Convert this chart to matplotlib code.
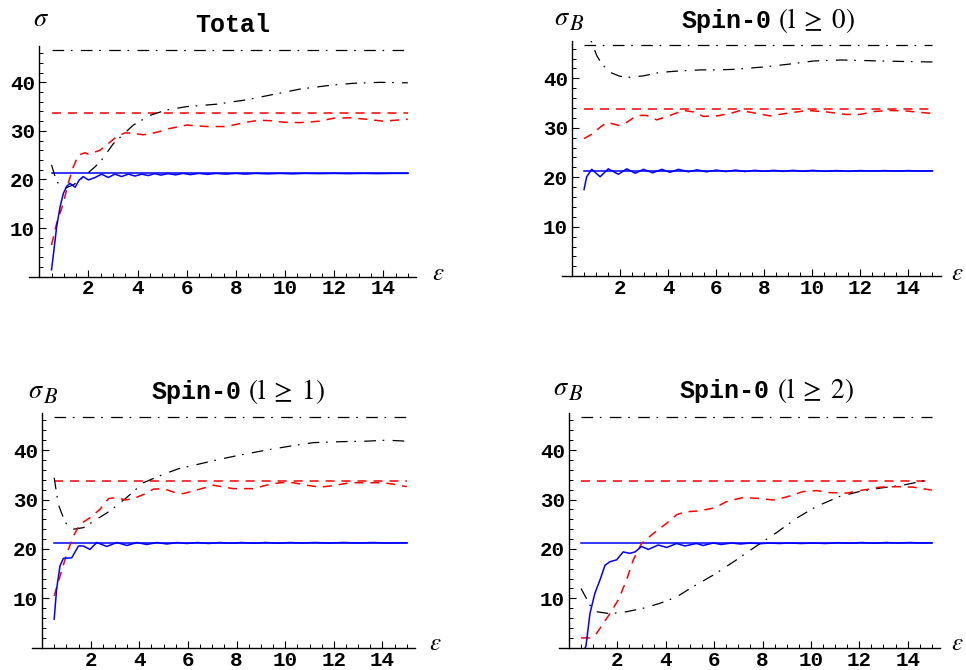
import matplotlib
matplotlib.use('Agg')
import matplotlib.pyplot as plt
from matplotlib.ticker import FixedLocator

plt.rcParams['lines.scale_dashes'] = False
plt.rcParams['mathtext.fontset'] = 'stix'

W, H = 966, 670

# ---------------- data ----------------
asym_x = [0.5, 15.0]
asym_black = 46.7
asym_red = 33.7
asym_blue = 21.3

# Panel 1: Total
p1_blue_x = [0.5, 0.6, 0.71, 0.85, 0.98, 1.12, 1.25, 1.46, 1.63, 1.79, 2.0, 2.27, 2.54, 2.81, 3.08, 3.35,
             3.63, 3.9, 4.17, 4.44, 4.7, 4.95, 5.25, 5.55, 5.85, 6.15, 6.5, 6.85, 7.2, 7.6, 8.0, 8.4, 8.8,
             9.3, 9.8, 10.3, 10.8, 11.4, 12.0, 12.6, 13.2, 13.8, 14.4, 15.0]
p1_blue_y = [1.4, 5.5, 10.3, 14.4, 17.1, 18.6, 19.2, 18.4, 19.9, 20.6, 19.9, 20.4, 21.1, 20.4, 21.1, 20.6,
             21.1, 20.7, 21.1, 20.8, 21.2, 20.9, 21.2, 20.95, 21.25, 21.0, 21.25, 21.05, 21.25, 21.1, 21.25,
             21.1, 21.25, 21.15, 21.25, 21.15, 21.25, 21.2, 21.25, 21.2, 21.25, 21.2, 21.25, 21.25]
p1_red_x = [0.5, 0.71, 0.98, 1.18, 1.39, 1.59, 1.86, 2.0, 2.47, 2.81, 3.15, 3.49, 3.83, 4.24, 4.78, 5.32,
            6.0, 6.81, 7.62, 8.44, 8.98, 9.4, 9.93, 10.6, 11.42, 11.97, 12.64, 13.32, 14.0, 15.0]
p1_red_y = [6.5, 11.0, 15.1, 19.2, 22.6, 25.0, 25.5, 25.2, 26.0, 27.4, 28.8, 29.6, 29.5, 29.2, 29.7, 30.5,
            31.2, 30.9, 30.9, 31.8, 32.2, 32.1, 31.8, 31.7, 32.0, 32.6, 32.7, 32.4, 32.0, 32.4]
p1_black_x = [0.5, 0.71, 1.05, 1.39, 1.66, 2.27, 2.54, 3.02, 3.83, 4.51, 5.18, 6.0, 7.22, 8.44, 9.52, 10.6,
              11.7, 12.78, 13.87, 15.0]
p1_black_y = [23.0, 19.5, 18.2, 18.9, 19.9, 22.6, 24.0, 27.4, 31.2, 33.2, 34.3, 35.0, 35.5, 36.4, 37.5, 38.6,
              39.3, 39.8, 40.0, 39.9]

# Panel 2: Spin-0 (l >= 0)
p2_blue_x = [0.5, 0.61, 0.82, 1.17, 1.51, 1.93, 2.28, 2.63, 2.97, 3.36, 3.74, 4.08, 4.43, 4.85, 5.2, 5.6,
             6.0, 6.4, 6.8, 7.2, 7.6, 8.0, 8.4, 8.8, 9.2, 9.6, 10.0, 10.5, 11.0, 11.5, 12.0, 12.5, 13.0,
             13.5, 14.0, 14.5, 15.0]
p2_blue_y = [17.5, 20.1, 21.6, 20.1, 21.7, 20.6, 21.7, 20.8, 21.6, 20.9, 21.6, 21.0, 21.6, 21.1, 21.5, 21.1,
             21.45, 21.15, 21.45, 21.15, 21.4, 21.2, 21.4, 21.2, 21.4, 21.2, 21.4, 21.2, 21.35, 21.2, 21.35,
             21.25, 21.35, 21.25, 21.35, 21.25, 21.3]
p2_red_x = [0.5, 0.82, 1.17, 1.45, 1.93, 2.28, 2.7, 3.1, 3.53, 4.08, 4.64, 5.06, 5.47, 6.03, 6.6, 7.0, 7.7,
            8.25, 8.9, 9.8, 10.6, 11.4, 12.0, 12.6, 13.2, 13.9, 14.5, 15.0]
p2_red_y = [27.8, 28.7, 30.1, 31.1, 30.5, 31.1, 32.5, 32.5, 31.6, 32.5, 33.5, 33.2, 32.3, 32.4, 32.9, 33.5,
            32.9, 32.4, 32.9, 33.5, 33.2, 32.7, 32.7, 33.3, 33.5, 33.4, 33.1, 32.9]
p2_black_x = [0.5, 0.82, 1.03, 1.24, 1.58, 2.0, 2.42, 2.97, 3.67, 4.5, 5.33, 6.0, 6.7, 8.0, 9.1, 10.05,
              11.2, 12.1, 12.8, 13.8, 15.0]
p2_black_y = [51.0, 47.2, 44.6, 42.9, 41.2, 40.4, 40.2, 40.5, 41.2, 41.5, 41.7, 41.7, 41.8, 42.3, 42.9, 43.5,
              43.7, 43.6, 43.5, 43.4, 43.3]

# Panel 3: Spin-0 (l >= 1)
p3_blue_x = [0.5, 0.6, 0.74, 0.88, 1.22, 1.5, 1.7, 1.97, 2.25, 2.66, 3.08, 3.49, 3.9, 4.31, 4.72, 5.13,
             5.55, 5.95, 6.4, 6.85, 7.3, 7.75, 8.2, 8.7, 9.2, 9.7, 10.2, 10.7, 11.2, 11.8, 12.4, 13.0, 13.6,
             14.2, 15.0]
p3_blue_y = [5.8, 11.9, 16.6, 18.1, 18.2, 20.6, 20.6, 19.9, 21.3, 20.5, 21.3, 20.7, 21.3, 20.9, 21.3, 21.0,
             21.3, 21.1, 21.3, 21.1, 21.3, 21.15, 21.3, 21.15, 21.3, 21.15, 21.3, 21.2, 21.3, 21.2, 21.3,
             21.2, 21.3, 21.2, 21.25]
p3_red_x = [0.5, 0.74, 1.01, 1.29, 1.56, 1.97, 2.38, 2.74, 3.08, 3.42, 3.77, 4.17, 4.58, 4.99, 5.47, 5.81,
            6.36, 7.04, 7.86, 8.69, 9.23, 9.78, 10.33, 10.88, 11.43, 11.97, 12.66, 13.34, 14.03, 14.44, 15.0]
p3_red_y = [10.5, 14.5, 18.9, 22.6, 25.0, 26.3, 28.0, 30.2, 30.4, 29.9, 30.2, 31.0, 32.1, 32.2, 31.4, 31.2,
            31.9, 32.9, 32.2, 32.2, 32.9, 33.4, 33.4, 32.9, 32.5, 32.8, 33.4, 33.4, 33.4, 33.1, 32.6]
p3_black_x = [0.5, 0.67, 0.88, 1.01, 1.29, 1.7, 2.25, 2.8, 3.48, 4.17, 4.99, 5.6, 6.22, 7.18, 8.14, 9.23,
              10.2, 11.15, 12.25, 13.34, 14.17, 15.0]
p3_black_y = [34.4, 29.0, 26.3, 25.0, 24.0, 24.3, 26.0, 27.7, 30.4, 33.4, 35.1, 36.2, 36.9, 38.0, 39.0, 40.0,
              40.8, 41.5, 41.7, 41.8, 42.0, 41.8]

# Panel 4: Spin-0 (l >= 2)
p4_blue_x = [0.5, 0.7, 0.87, 1.07, 1.28, 1.49, 1.69, 1.97, 2.24, 2.52, 2.73, 3.0, 3.28, 3.69, 4.04, 4.45,
             4.79, 5.27, 5.55, 5.96, 6.3, 6.7, 7.1, 7.5, 7.9, 8.3, 8.7, 9.1, 9.6, 10.1, 10.6, 11.1, 11.6,
             12.1, 12.6, 13.1, 13.6, 14.1, 14.6, 15.0]
p4_blue_y = [-1.5, 0.3, 7.0, 11.0, 13.7, 16.7, 17.4, 17.8, 19.4, 19.1, 19.4, 20.5, 19.9, 20.8, 20.3, 21.1,
             20.6, 21.1, 20.7, 21.2, 20.9, 21.2, 21.0, 21.2, 21.05, 21.2, 21.1, 21.2, 21.1, 21.2, 21.1, 21.25,
             21.15, 21.3, 21.15, 21.3, 21.2, 21.3, 21.2, 21.25]
p4_red_x = [0.5, 0.87, 1.14, 1.69, 2.04, 2.38, 2.66, 3.0, 3.48, 4.04, 4.45, 4.79, 5.41, 5.9, 6.1, 6.52, 7.2,
            7.89, 8.44, 8.99, 9.68, 10.23, 10.78, 11.47, 12.16, 12.85, 13.54, 14.23, 15.0]
p4_red_y = [2.0, 2.0, 2.9, 6.9, 9.7, 13.7, 17.8, 21.1, 23.1, 25.2, 26.9, 27.5, 27.7, 28.2, 28.5, 29.6, 30.4,
            30.2, 29.9, 30.5, 31.6, 31.8, 31.4, 31.3, 31.9, 32.5, 32.6, 32.5, 31.9]
p4_black_x = [0.5, 0.87, 1.14, 1.69, 2.38, 3.07, 3.76, 4.45, 5.14, 5.96, 6.93, 7.75, 8.58, 9.4, 10.23, 11.18,
              12.0, 12.85, 13.8, 15.0]
p4_black_y = [12.0, 8.6, 7.3, 6.9, 7.3, 8.0, 9.0, 10.3, 12.4, 14.7, 17.8, 20.6, 23.3, 26.2, 28.6, 30.6,
              31.6, 32.3, 32.9, 34.1]

x_major = [2, 4, 6, 8, 10, 12, 14]
y_major = [10, 20, 30, 40]
x_labels = [str(v) for v in x_major]
y_labels = [str(v) for v in y_major]

# ---------------- layout (pixels) ----------------
# left, right, y of x-axis, top
rects = [
    (29.4, 416.4, 276.6, 45.9),
    (562.4, 940.9, 276.2, 41.2),
    (32.3, 415.3, 647.8, 413.0),
    (559.3, 940.3, 647.8, 413.0),
]

fig = plt.figure(figsize=(W / 100, H / 100), dpi=100)

def fpos(x, y):
    return x / W, 1 - y / H

BLACK_DASH = (0, (8.4, 4.8, 1.2, 6.0))
RED_DASH = (0, (6.5, 5.0))
TICKFONT = dict(fontfamily='Liberation Mono', fontweight='bold', fontsize=15)

def style_axes(ax):
    ax.set_xlim(-0.4, 15.35)
    ax.set_ylim(0, 47.5)
    ax.spines['left'].set_position(('data', 0))
    ax.spines['top'].set_visible(False)
    ax.spines['right'].set_visible(False)
    for s in ('left', 'bottom'):
        ax.spines[s].set_linewidth(1.0)
    ax.set_xticks(x_major, x_labels, **TICKFONT)
    ax.set_yticks(y_major, y_labels, **TICKFONT)
    xminor = [0.5 * k for k in range(1, 31) if (0.5 * k) not in x_major]
    yminor = [2 * k for k in range(1, 24) if (2 * k) not in y_major]
    ax.xaxis.set_minor_locator(FixedLocator(xminor))
    ax.yaxis.set_minor_locator(FixedLocator(yminor))
    ax.tick_params(which='major', direction='in', length=5, width=0.8)
    ax.tick_params(axis='x', which='major', pad=2)
    ax.tick_params(axis='y', which='major', pad=3)
    ax.tick_params(which='minor', direction='in', length=3, width=0.7)
    ax.patch.set_alpha(0)

panels = [
    (p1_blue_x, p1_blue_y, p1_red_x, p1_red_y, p1_black_x, p1_black_y),
    (p2_blue_x, p2_blue_y, p2_red_x, p2_red_y, p2_black_x, p2_black_y),
    (p3_blue_x, p3_blue_y, p3_red_x, p3_red_y, p3_black_x, p3_black_y),
    (p4_blue_x, p4_blue_y, p4_red_x, p4_red_y, p4_black_x, p4_black_y),
]

for (l, r, y0, top), (bx, by, rx, ry, kx, ky) in zip(rects, panels):
    ax = fig.add_axes([l / W, 1 - y0 / H, (r - l) / W, (y0 - top) / H])
    style_axes(ax)
    ax.plot(asym_x, [asym_black] * 2, color='black', lw=0.9, linestyle=BLACK_DASH)
    ax.plot(asym_x, [asym_red] * 2, color='red', lw=1.1, linestyle=RED_DASH)
    ax.plot(asym_x, [asym_blue] * 2, color='blue', lw=1.1)
    ax.plot(kx, ky, color='black', lw=0.9, linestyle=BLACK_DASH)
    ax.plot(rx, ry, color='red', lw=1.1, linestyle=RED_DASH)
    ax.plot(bx, by, color='blue', lw=1.1)

# ---------------- texts ----------------
mono = dict(fontfamily='Liberation Mono', fontweight='bold', fontsize=18, va='baseline', ha='left')
ser = dict(fontsize=19.5, va='baseline', ha='left')

fig.text(*fpos(195, 31.7), 'Total', **mono)
titles = [((681.7, 28.3), (778.3, 28.3), r'$(\mathrm{l}\;\geq\;0)$'),
          ((151.7, 399.3), (248.3, 399.3), r'$(\mathrm{l}\;\geq\;1)$'),
          ((679.3, 398.3), (776.7, 398.3), r'$(\mathrm{l}\;\geq\;2)$')]
for p1, p2, s in titles:
    fig.text(*fpos(*p1), 'Spin-0', **mono)
    fig.text(*fpos(*p2), s, **ser)

# y-axis labels: sigma and sigma_B
fig.text(*fpos(33, 26), r'$\sigma$', fontsize=19, va='baseline', ha='left')
for (sx, sy) in [(554, 25), (28, 398), (553, 395)]:
    fig.text(*fpos(sx, sy), r'$\sigma$', fontsize=19, va='baseline', ha='left')
    fig.text(*fpos(sx + 15, sy + 5), r'$B$', fontsize=16, va='baseline', ha='left')

for (x, y) in [(438, 273), (957, 273), (435, 643), (957, 643)]:
    fig.text(*fpos(x, y), r'$\varepsilon$', fontsize=18, va='center', ha='center')

fig.savefig('out.png', dpi=100)
